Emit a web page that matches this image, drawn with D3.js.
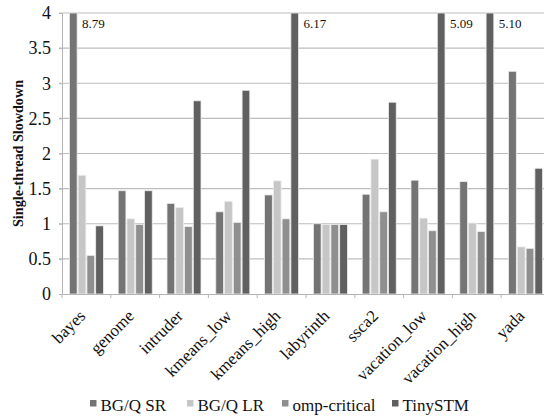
<!DOCTYPE html>
<html>
<head>
<meta charset="utf-8">
<script src="https://cdn.jsdelivr.net/npm/d3@7"></script>
<style>
  html, body { margin: 0; padding: 0; background: #fff; }
  svg { display: block; }
  svg text { font-family: "Liberation Serif", "Times New Roman", Times, serif; fill: #111; }
</style>
</head>
<body>
<svg id="chart" width="544" height="417"></svg>
<script>
// Benchmarks along the x axis
const categories = ["bayes", "genome", "intruder", "kmeans_low", "kmeans_high",
  "labyrinth", "ssca2", "vacation_low", "vacation_high", "yada"];

// Single-thread slowdown per benchmark, one array per configuration
const seriesNames = ["BG/Q SR", "BG/Q LR", "omp-critical", "TinySTM"];
const bgqSR       = [8.79, 1.47, 1.29, 1.17, 1.41, 1.00, 1.42, 1.62, 1.60, 3.17];
const bgqLR       = [1.69, 1.07, 1.23, 1.32, 1.61, 0.99, 1.92, 1.08, 1.01, 0.67];
const ompCritical = [0.55, 0.99, 0.96, 1.02, 1.07, 0.99, 1.17, 0.90, 0.89, 0.65];
const tinySTM     = [0.97, 1.47, 2.75, 2.90, 6.17, 0.99, 2.73, 5.09, 5.10, 1.79];

const yTicks = [0, 0.5, 1, 1.5, 2, 2.5, 3, 3.5, 4];
const yMax = 4;

const seriesValues = [bgqSR, bgqLR, ompCritical, tinySTM];
const colors = ["#747474", "#c6c6c6", "#8f8f8f", "#606060"];

const svg = d3.select("#chart");
const plot = { left: 62, right: 550, top: 13, bottom: 294 };

const x0 = d3.scaleBand().domain(categories).range([plot.left, plot.right]).padding(0);
const groupW = 34;
const x1 = d3.scaleBand().domain(seriesNames).range([0, groupW]).paddingInner(0.12);
const y = d3.scaleLinear().domain([0, yMax]).range([plot.bottom, plot.top]);

// Horizontal gridlines
svg.append("g")
  .selectAll("line")
  .data(yTicks.filter(t => t > 0))
  .join("line")
  .attr("x1", plot.left - 3).attr("x2", plot.right)
  .attr("y1", d => y(d)).attr("y2", d => y(d))
  .attr("stroke", "#bdbdbd").attr("stroke-width", 1.2);

// Y axis
const yAxis = svg.append("g")
  .attr("transform", `translate(${plot.left},0)`)
  .call(d3.axisLeft(y).tickValues(yTicks).tickFormat(d3.format("")).tickSize(3).tickPadding(8));
yAxis.attr("font-family", null);
yAxis.select(".domain").attr("stroke", "#b5b5b5");
yAxis.selectAll(".tick line").attr("stroke", "#b5b5b5");
yAxis.selectAll(".tick text")
  .attr("font-size", 18)
  .attr("fill", "#111");

// Bars
const rows = categories.map((c, i) => ({ cat: c, vals: seriesNames.map((s, j) => ({ s, j, v: seriesValues[j][i] })) }));
const groups = svg.append("g").selectAll("g")
  .data(rows)
  .join("g")
  .attr("transform", d => `translate(${x0(d.cat) + (x0.bandwidth() - groupW) / 2},0)`);

groups.selectAll("rect")
  .data(d => d.vals)
  .join("rect")
  .attr("x", d => x1(d.s))
  .attr("width", x1.bandwidth())
  .attr("y", d => y(Math.min(d.v, yMax)))
  .attr("height", d => y(0) - y(Math.min(d.v, yMax)))
  .attr("fill", d => colors[d.j])
  .attr("stroke", "#ececec")
  .attr("stroke-width", 0.8);

// Value labels for bars that run past the top of the axis
groups.selectAll("text.over")
  .data(d => d.vals.filter(v => v.v > yMax))
  .join("text")
  .attr("class", "over")
  .attr("x", d => x1(d.s) + x1.bandwidth() + 5)
  .attr("y", y(yMax) + 15)
  .attr("font-size", 13)
  .text(d => d.v.toFixed(2));

// X axis
const xAxis = svg.append("g")
  .attr("transform", `translate(0,${plot.bottom})`)
  .call(d3.axisBottom(x0).tickValues([]).tickSize(0));
xAxis.select(".domain").attr("stroke", "#b5b5b5").attr("stroke-width", 1.2);

// Category separators below the axis
svg.append("g").selectAll("line")
  .data(categories)
  .join("line")
  .attr("x1", d => x0(d)).attr("x2", d => x0(d))
  .attr("y1", plot.bottom).attr("y2", plot.bottom + 4)
  .attr("stroke", "#b5b5b5");

// Rotated category labels
svg.append("g").selectAll("text")
  .data(categories)
  .join("text")
  .attr("text-anchor", "end")
  .attr("font-size", 17)
  .attr("transform", d => `translate(${x0(d) + x0.bandwidth() / 2},${plot.bottom + 23}) rotate(-45)`)
  .text(d => d);

// Y axis title
svg.append("text")
  .attr("transform", `translate(23,${(plot.top + plot.bottom) / 2}) rotate(-90)`)
  .attr("text-anchor", "middle")
  .attr("font-size", 14)
  .attr("font-weight", "bold")
  .attr("textLength", 147)
  .attr("lengthAdjust", "spacingAndGlyphs")
  .text("Single-thread Slowdown");

// Legend
const legendX = [90, 187, 282, 392];
const legend = svg.append("g").selectAll("g")
  .data(seriesNames)
  .join("g")
  .attr("transform", (d, i) => `translate(${legendX[i]},411)`);
legend.append("rect")
  .attr("x", 0).attr("y", -11).attr("width", 6.5).attr("height", 6.5)
  .attr("fill", (d, i) => colors[i]);
legend.append("text")
  .attr("x", 10.5).attr("y", 0)
  .attr("font-size", 17)
  .text(d => d);
</script>
</body>
</html>
